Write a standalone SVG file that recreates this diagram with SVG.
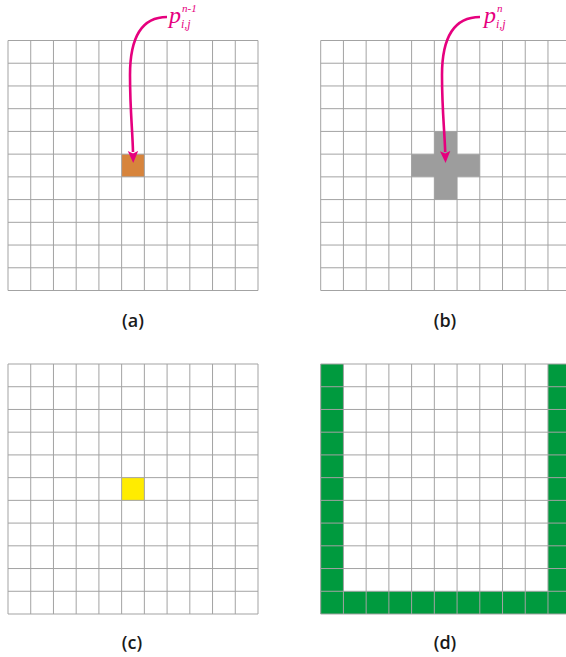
<svg xmlns="http://www.w3.org/2000/svg" xmlns:xlink="http://www.w3.org/1999/xlink" width="566" height="657" viewBox="0 0 566 657">
<style>
.gl{stroke:#a3a3a3;stroke-width:1;fill:none}
.lbl{font-family:"Open Sans","DejaVu Sans",sans-serif;font-size:18px;font-weight:600;fill:#1a1a1a;text-anchor:middle}
.pv{font-family:"Liberation Serif",serif;font-style:italic;fill:#e6007e}
.arr{stroke:#e6007e;stroke-width:2.6;fill:none}
</style>
<defs>
<marker id="ah" viewBox="0 0 12 12" refX="1" refY="6" markerWidth="12" markerHeight="12" markerUnits="userSpaceOnUse" orient="auto">
<path d="M0,0.8 L12,6 L0,11.2 L2.5,6 Z" fill="#e6007e"/>
</marker>
<g id="grid">
<path class="gl" d="M0,0H250M0,22.727H250M0,45.455H250M0,68.182H250M0,90.909H250M0,113.636H250M0,136.364H250M0,159.091H250M0,181.818H250M0,204.545H250M0,227.273H250M0,250H250M0,0V250M22.727,0V250M45.455,0V250M68.182,0V250M90.909,0V250M113.636,0V250M136.364,0V250M159.091,0V250M181.818,0V250M204.545,0V250M227.273,0V250M250,0V250"/>
</g>
</defs>
<g id="panel-a">
<rect x="121.64" y="154.14" width="22.73" height="22.73" fill="#d7843c"/>
<use xlink:href="#grid" x="8" y="40.5"/>
<text class="lbl" x="133" y="327">(a)</text>
</g>
<g id="panel-b">
<use xlink:href="#grid" x="320.7" y="40.5"/>
<path d="M434.34,131.41H457.07V154.14H479.8V176.86H457.07V199.59H434.34V176.86H411.61V154.14H434.34Z" fill="#9d9d9d"/>
<text class="lbl" x="445" y="327">(b)</text>
</g>
<g id="panel-c">
<rect x="121.64" y="477.64" width="22.73" height="22.73" fill="#ffec00"/>
<use xlink:href="#grid" x="8" y="364"/>
<text class="lbl" x="132" y="649">(c)</text>
</g>
<g id="panel-d">
<rect x="320.7" y="364" width="22.73" height="250" fill="#009a3e"/>
<rect x="547.97" y="364" width="22.73" height="250" fill="#009a3e"/>
<rect x="320.7" y="591.27" width="250" height="22.73" fill="#009a3e"/>
<use xlink:href="#grid" x="320.7" y="364"/>
<text class="lbl" x="445" y="649">(d)</text>
</g>
<g id="label-pa">
<text class="pv" x="169" y="23" font-size="24">p</text>
<text class="pv" x="182" y="12" font-size="11">n-1</text>
<text class="pv" x="181" y="28" font-size="12">i,j</text>
</g>
<g id="label-pb">
<text class="pv" x="484" y="23" font-size="24">p</text>
<text class="pv" x="497" y="12" font-size="11">n</text>
<text class="pv" x="496" y="28" font-size="12">i,j</text>
</g>
<g id="connectors">
<path class="arr" d="M167,17 C142,17 130,36 130,75 C130,110 132.5,130 133,152" marker-end="url(#ah)"/>
<path class="arr" d="M480,17 C455,17 442,36 442,75 C442,110 444.5,130 445.2,152" marker-end="url(#ah)"/>
</g>
</svg>
